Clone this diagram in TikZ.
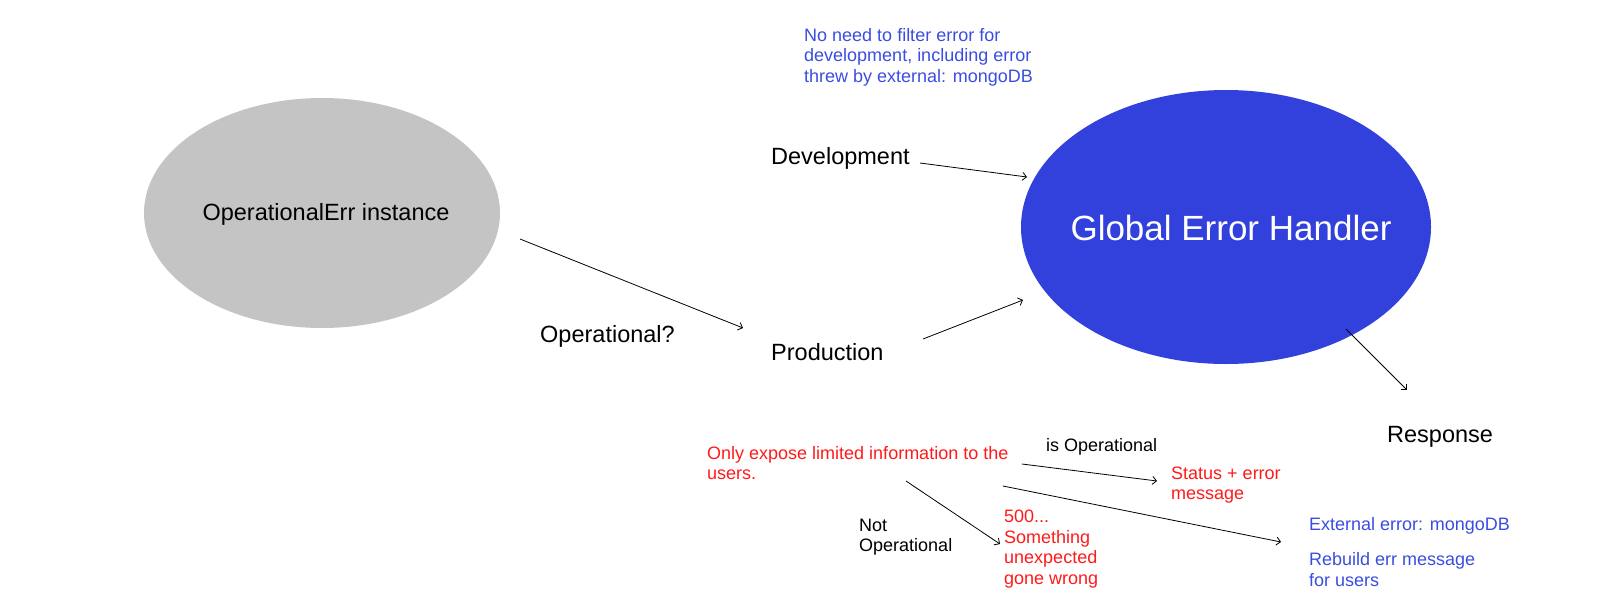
\documentclass[tikz,border=0pt]{standalone}
\usepackage{fontspec}
\setmainfont{Liberation Sans}
\usetikzlibrary{shapes.geometric,arrows.meta}
\definecolor{gbg}{HTML}{C4C4C4}
\definecolor{gblue}{HTML}{3241DC}
\definecolor{tblue}{HTML}{3A4DE0}
\definecolor{tred}{HTML}{FF1A1A}
\tikzset{
  conn/.style={draw=black, line width=0.8pt, -{Straight Barb[length=4pt,width=8pt]}},
  blob/.style={ellipse, inner sep=0pt},
  bigtxt/.style={inner sep=0pt, anchor=west, font=\fontsize{23.5}{26}\selectfont},
  smalltxt/.style={inner sep=0pt, anchor=west, align=left, font=\fontsize{18}{20.6}\selectfont},
  bluenote/.style={smalltxt, text=tblue},
  rednote/.style={smalltxt, text=tred},
  blacknote/.style={smalltxt, text=black},
}
\begin{document}
\begin{tikzpicture}[x=1pt,y=-1pt]
\useasboundingbox (0,0) rectangle (1609,600);
% ellipses
\node[blob, fill=gbg, minimum width=356pt, minimum height=230pt] (oe) at (322,213) {};
\node[inner sep=0pt, font=\fontsize{23.5}{26}\selectfont] (oetxt) at (326,214) {OperationalErr instance};
\node[blob, fill=gblue, minimum width=410pt, minimum height=274pt] (geh) at (1226,227) {};
\node[inner sep=0pt, text=white, font=\fontsize{35}{40}\selectfont] (gehtxt) at (1231,228) {Global Error Handler};
% labels
\node[bluenote] (note) at (804,57) {No need to filter error for\\development, including error\\threw by external: mongoDB};
\node[bigtxt] (dev) at (771,158) {Development};
\node[bigtxt] (prod) at (771,352) {Production};
\node[bigtxt] (opq) at (540,336) {Operational?};
\node[bigtxt] (resp) at (1387,437) {Response};
\node[rednote] (only) at (707,463) {Only expose limited information to the\\users.};
\node[blacknote] (isop) at (1046,447) {is Operational};
\node[rednote] (status) at (1171,485) {Status + error\\message};
\node[blacknote] (notop) at (859,537) {Not\\Operational};
\node[rednote] (five) at (1004,549) {500...\\Something\\unexpected\\gone wrong};
\node[bluenote] (ext) at (1309,526) {External error: mongoDB};
\node[bluenote] (rebuild) at (1309,569.5) {Rebuild err message\\for users};
% connector end points
\coordinate (a1s) at (520,239);  \coordinate (a1e) at (743,328);
\coordinate (a2s) at (920,163);  \coordinate (a2e) at (1027,177);
\coordinate (a3s) at (923,339);  \coordinate (a3e) at (1023,300);
\coordinate (a4s) at (1346,329); \coordinate (a4e) at (1407,390);
\coordinate (a5s) at (1022,464); \coordinate (a5e) at (1157,481);
\coordinate (a6s) at (1003,486); \coordinate (a6e) at (1281,542);
\coordinate (a7s) at (906,481);  \coordinate (a7e) at (1000,544);
% connectors
\draw[conn] (a1s) -- (a1e);
\draw[conn] (a2s) -- (a2e);
\draw[conn] (a3s) -- (a3e);
\draw[conn] (a4s) -- (a4e);
\draw[conn] (a5s) -- (a5e);
\draw[conn] (a6s) -- (a6e);
\draw[conn] (a7s) -- (a7e);
\end{tikzpicture}
\end{document}
